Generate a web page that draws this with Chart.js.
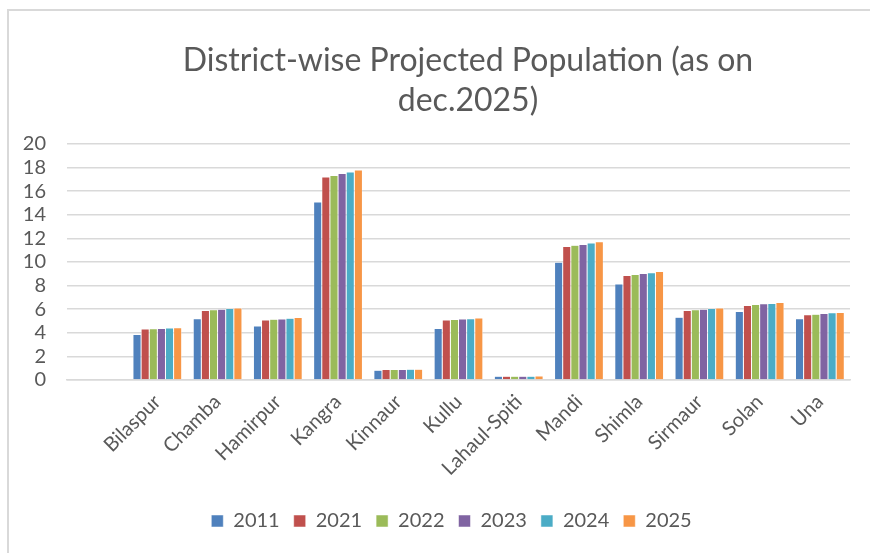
<!DOCTYPE html>
<html>
<head>
<meta charset="utf-8">
<script src="https://cdn.jsdelivr.net/npm/chart.js@4/dist/chart.umd.min.js"></script>
<style>
  html, body { margin: 0; padding: 0; background: #fff; }
  #wrap { position: relative; width: 870px; height: 553px; }
  #frame { position: absolute; left: 7px; top: 9px; right: 0; bottom: 0;
           border-left: 2px solid #d9d9d9; border-top: 2px solid #d9d9d9; }
  canvas { position: absolute; left: 0; top: 0; }
</style>
</head>
<body>
<div id="wrap">
  <div id="frame"></div>
  <canvas id="barChart" width="870" height="553"></canvas>
</div>
<script>
// first slot is the empty header category, as in the source sheet
const districts = ['', 'Bilaspur', 'Chamba', 'Hamirpur', 'Kangra', 'Kinnaur', 'Kullu',
    'Lahaul-Spiti', 'Mandi', 'Shimla', 'Sirmaur', 'Solan', 'Una'];

const pop2011 = [null, 3.86, 5.20, 4.57, 15.08, 0.83, 4.37, 0.31, 9.97, 8.14, 5.31, 5.80, 5.20];
const pop2021 = [null, 4.32, 5.89, 5.09, 17.20, 0.90, 5.09, 0.32, 11.31, 8.86, 5.89, 6.31, 5.54];
const pop2022 = [null, 4.34, 5.95, 5.15, 17.34, 0.90, 5.12, 0.32, 11.43, 8.94, 5.95, 6.40, 5.57];
const pop2023 = [null, 4.37, 6.00, 5.17, 17.49, 0.90, 5.17, 0.32, 11.49, 9.03, 6.00, 6.46, 5.63];
const pop2024 = [null, 4.40, 6.06, 5.23, 17.63, 0.91, 5.20, 0.32, 11.60, 9.09, 6.06, 6.49, 5.69];
const pop2025 = [null, 4.42, 6.10, 5.29, 17.80, 0.91, 5.26, 0.33, 11.71, 9.20, 6.10, 6.57, 5.71];

const years = ['2011', '2021', '2022', '2023', '2024', '2025'];
const colors = ['#4f81bd', '#c0504d', '#9bbb59', '#8064a2', '#4bacc6', '#f79646'];
const series = [pop2011, pop2021, pop2022, pop2023, pop2024, pop2025];

const titleLines = ['District-wise Projected Population (as on', 'dec.2025)'];

const fontFamily = 'Lato, "Open Sans", sans-serif';
const textColor = '#595959';

// title and legend sit a little right of centre in the original
const offsetPlugin = {
    id: 'offsets',
    afterUpdate(chart) {
        const lg = chart.legend;
        if (lg) { lg.left += 23; lg.right += 23; }
    },
    afterDraw(chart) {
        const ctx = chart.ctx;
        ctx.save();
        ctx.fillStyle = textColor;
        ctx.font = '32px ' + fontFamily;
        ctx.textAlign = 'center';
        ctx.textBaseline = 'middle';
        titleLines.forEach((line, i) => ctx.fillText(line, 468, 61 + i * 40));
        ctx.restore();
    }
};

new Chart(document.getElementById('barChart'), {
    type: 'bar',
    data: {
        labels: districts,
        datasets: series.map((vals, i) => ({
            label: years[i],
            data: vals,
            backgroundColor: colors[i],
            borderColor: '#ffffff',
            borderWidth: 0.5,
            categoryPercentage: 0.81,
            barPercentage: 1.0
        }))
    },
    plugins: [offsetPlugin],
    options: {
        responsive: false,
        animation: false,
        layout: { padding: { left: 7, right: 20, top: 144, bottom: 12 } },
        plugins: {
            title: { display: false },
            legend: {
                position: 'bottom',
                labels: {
                    color: textColor,
                    font: { family: fontFamily, size: 20 },
                    boxWidth: 12,
                    boxHeight: 12,
                    padding: 14
                }
            },
            tooltip: { enabled: false }
        },
        scales: {
            x: {
                grid: { display: false },
                border: { color: '#d9d9d9', width: 1.5 },
                afterFit(axis) { axis.height = 117; },
                ticks: {
                    color: textColor,
                    font: { family: fontFamily, size: 20 },
                    minRotation: 45,
                    maxRotation: 45,
                    autoSkip: false,
                    padding: 2
                }
            },
            y: {
                min: 0,
                max: 20,
                grid: { color: '#d9d9d9', lineWidth: 1.5, drawTicks: false },
                border: { display: false },
                afterFit(axis) { axis.width = 60; },
                ticks: {
                    stepSize: 2,
                    autoSkip: false,
                    color: textColor,
                    font: { family: fontFamily, size: 20 },
                    padding: 21
                }
            }
        }
    }
});
</script>
</body>
</html>
